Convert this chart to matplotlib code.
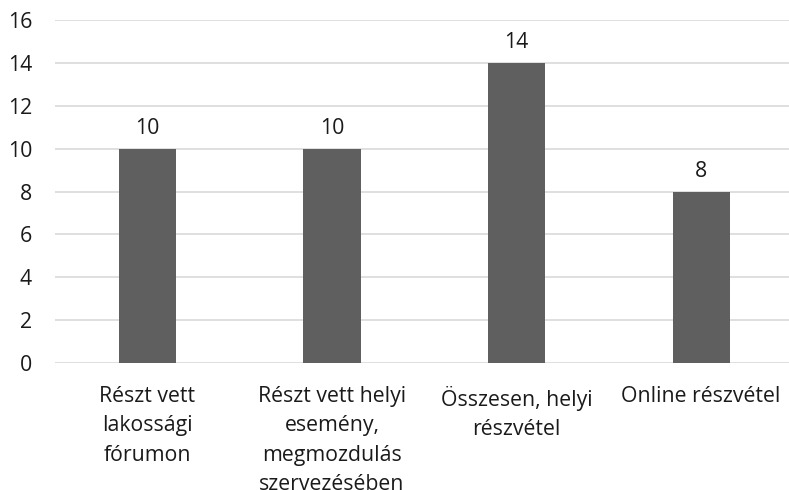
import matplotlib
matplotlib.use("Agg")
import matplotlib.pyplot as plt

plt.rcParams['font.family'] = ['Open Sans', 'DejaVu Sans']

categories = [
    "Részt vett\nlakossági\nfórumon",
    "Részt vett helyi\nesemény,\nmegmozdulás\nszervezésében",
    "Összesen, helyi\nrészvétel",
    "Online részvétel",
]
values = [10, 10, 14, 8]
yticks = [0, 2, 4, 6, 8, 10, 12, 14, 16]

FS = 15.3
TXT = "#1a1a1a"

fig = plt.figure(figsize=(7.89, 4.90), dpi=100)
ax = fig.add_axes([0.0697, 0.259, 0.9303, 0.700])

x = list(range(len(categories)))
ax.bar(x, values, width=0.31, color="#5f5f5f", zorder=3)

for xi, v in zip(x, values):
    ax.text(xi, v + 0.45, f"{v}", ha="center", va="bottom",
            fontsize=FS, color=TXT)

ax.set_ylim(0, 16)
ax.set_xlim(-0.5, 3.476)
ax.set_yticks(yticks)
ax.set_yticklabels([str(t) for t in yticks], fontsize=FS, color=TXT)
ax.set_xticks(x)
ax.set_xticklabels(categories, fontsize=FS, color=TXT,
                   linespacing=1.53, va="top")
ax.tick_params(axis="both", length=0)
ax.tick_params(axis="y", pad=16.5)
ax.tick_params(axis="x", pad=16.5)

ax.grid(axis="y", color="#d9d9d9", linewidth=1.2, zorder=0)
for s in ax.spines.values():
    s.set_visible(False)

fig.savefig("out.png", dpi=100)
